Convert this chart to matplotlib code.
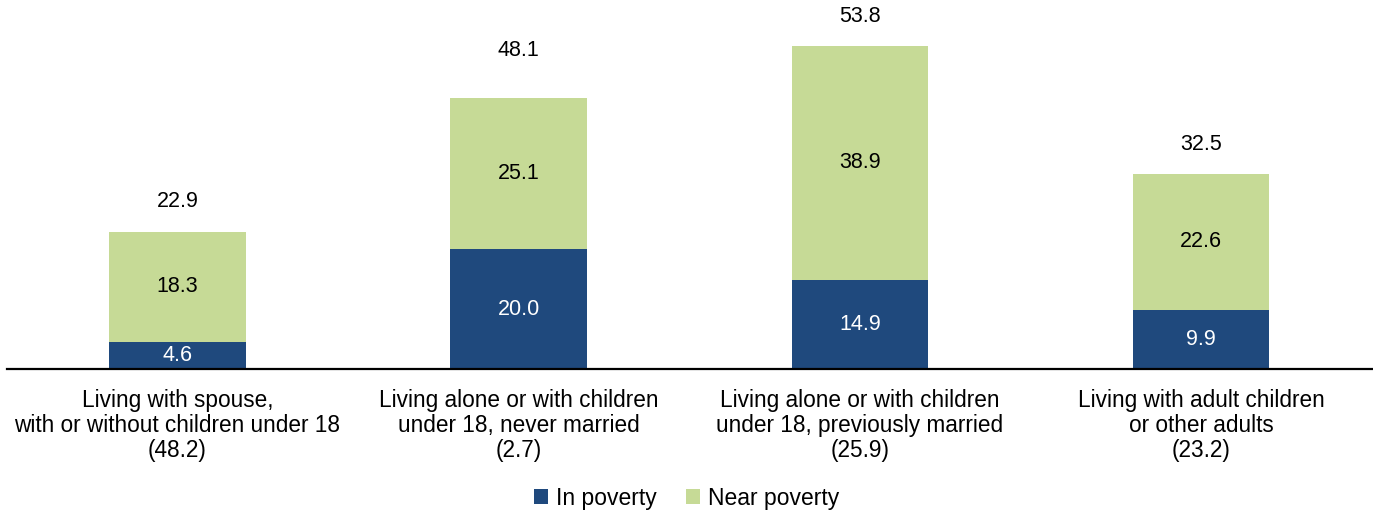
import numpy as np
import matplotlib.pyplot as plt

plt.rcParams['font.family'] = ['Liberation Sans', 'DejaVu Sans']

# Living arrangement groups (share of group in parentheses)
categories = [
    "Living with spouse,\nwith or without children under 18\n(48.2)",
    "Living alone or with children\nunder 18, never married\n(2.7)",
    "Living alone or with children\nunder 18, previously married\n(25.9)",
    "Living with adult children\nor other adults\n(23.2)",
]
in_poverty = [4.6, 20.0, 14.9, 9.9]
near_poverty = [18.3, 25.1, 38.9, 22.6]
totals = [22.9, 48.1, 53.8, 32.5]

blue = '#1f497d'
green = '#c6da96'
fs = 15.5

fig = plt.figure(figsize=(13.73, 5.12), dpi=100)
ax = fig.add_axes([0.005, 0.279, 0.994, 0.68])

x = np.arange(len(categories))
w = 0.4
b1 = ax.bar(x, in_poverty, w, color=blue, label='In poverty')
b2 = ax.bar(x, near_poverty, w, bottom=in_poverty, color=green, label='Near poverty')

for i in range(len(x)):
    ax.text(x[i], in_poverty[i] / 2, f"{in_poverty[i]:.1f}", ha='center', va='center',
            color='white', fontsize=fs)
    ax.text(x[i], in_poverty[i] + near_poverty[i] / 2, f"{near_poverty[i]:.1f}",
            ha='center', va='center', color='black', fontsize=fs)
    ax.annotate(f"{totals[i]:.1f}", (x[i], totals[i]), xytext=(0, 21.5),
                textcoords='offset points', ha='center', va='center',
                fontsize=fs, annotation_clip=False)

ax.set_xlim(-0.5, 3.5)
ax.set_ylim(0, 58)
ax.set_xticks(x)
ax.set_xticklabels(categories, fontsize=16.3, linespacing=1.12)
ax.tick_params(axis='x', length=0, pad=14)
ax.set_yticks([])
for s in ['top', 'right', 'left']:
    ax.spines[s].set_visible(False)
ax.spines['bottom'].set_linewidth(1.6)
ax.spines['bottom'].set_color('black')

fig.legend(handles=[b1, b2], loc='center', bbox_to_anchor=(0.5, 0.027), ncol=2,
           frameon=False, fontsize=16.5, handlelength=0.6, handleheight=0.6,
           handletextpad=0.35, columnspacing=1.3)

fig.savefig('out.png', dpi=100)
